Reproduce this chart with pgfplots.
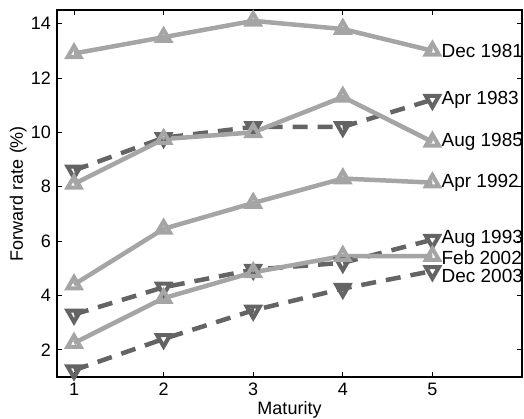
\documentclass[border=0pt]{standalone}
\usepackage{pgfplots}
\pgfplotsset{compat=1.18}
\usepackage{fontspec}
\setmainfont{Liberation Sans}
\definecolor{lg}{RGB}{165,165,165}
\definecolor{dg}{RGB}{100,100,100}
\tikzset{
  light/.style={color=lg, line width=4.5pt, mark=triangle, mark size=7.5pt, mark options={solid, line width=4pt}},
  dark/.style={color=dg, line width=4.5pt, dash pattern=on 15pt off 10pt, mark=triangle, mark size=7.5pt, mark options={solid, rotate=180, line width=4pt}},
  lab/.style={anchor=west, xshift=9pt, font=\fontsize{19}{21}\selectfont, inner sep=0pt, text=black},
}
\begin{document}
\fontsize{18}{20}\selectfont
\begin{tikzpicture}
\begin{axis}[name=ax,
  scale only axis, width=465pt, height=367pt,
  xmin=0.81, xmax=6, ymin=1, ymax=14.5,
  xtick={1,2,3,4,5}, ytick={2,4,...,14},
  tick align=inside, major tick length=5pt,
  axis line style={line width=1.2pt},
  every tick/.style={black, line width=0.8pt},
  tick label style={font=\fontsize{18}{20}\selectfont},
  /pgf/number format/assume math mode=true,
  xlabel={Maturity}, ylabel={Forward rate (\%)},
  label style={font=\fontsize{18}{20}\selectfont},
  xlabel style={yshift=7pt},
  ylabel style={yshift=-8pt},
  clip=false,
]
\addplot[light] coordinates {(1,12.9) (2,13.5) (3,14.1) (4,13.8) (5,13.0)};
\addplot[dark] coordinates {(1,8.6) (2,9.8) (3,10.2) (4,10.2) (5,11.2)};
\addplot[light] coordinates {(1,8.1) (2,9.75) (3,10.0) (4,11.3) (5,9.65)};
\addplot[light] coordinates {(1,4.4) (2,6.45) (3,7.4) (4,8.3) (5,8.15)};
\addplot[dark] coordinates {(1,3.3) (2,4.3) (3,4.95) (4,5.2) (5,6.05)};
\addplot[light] coordinates {(1,2.25) (2,3.9) (3,4.85) (4,5.45) (5,5.45)};
\addplot[dark] coordinates {(1,1.25) (2,2.4) (3,3.45) (4,4.25) (5,4.9)};
\node[lab] at (axis cs:5,13.0) {Dec 1981};
\node[lab] at (axis cs:5,11.2) {Apr 1983};
\node[lab] at (axis cs:5,9.65) {Aug 1985};
\node[lab] at (axis cs:5,8.15) {Apr 1992};
\node[lab] at (axis cs:5,6.1) {Aug 1993};
\node[lab] at (axis cs:5,5.4) {Feb 2002};
\node[lab] at (axis cs:5,4.7) {Dec 2003};
\end{axis}
\pgfresetboundingbox
\path[use as bounding box] ([shift={(-57pt,-42pt)}]ax.south west) rectangle ([shift={(2pt,10pt)}]ax.north east);
\end{tikzpicture}
\end{document}
